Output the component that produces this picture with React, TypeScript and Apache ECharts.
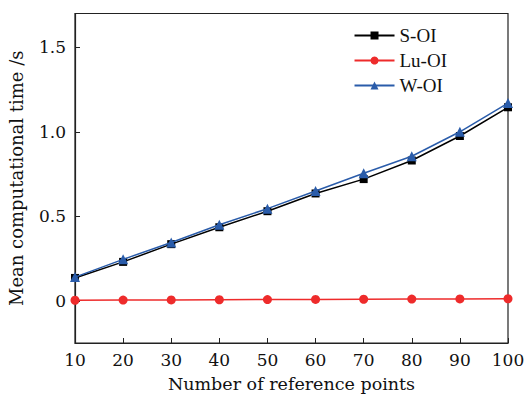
import React, { useEffect, useRef } from "react";
import * as echarts from "echarts";

const xValues = [10, 20, 30, 40, 50, 60, 70, 80, 90, 100];
const sOI = [0.135, 0.23, 0.335, 0.435, 0.53, 0.635, 0.72, 0.83, 0.975, 1.145];
const luOI = [0.003, 0.004, 0.005, 0.006, 0.007, 0.008, 0.009, 0.01, 0.011, 0.012];
const wOI = [0.14, 0.245, 0.345, 0.45, 0.545, 0.65, 0.755, 0.855, 1.0, 1.17];
const yTicks = [0, 0.5, 1.0, 1.5];
const xTicks = [10, 20, 30, 40, 50, 60, 70, 80, 90, 100];

const SERIF = "DejaVu Serif";

export default function App() {
  const ref = useRef<HTMLDivElement>(null);
  useEffect(() => {
    if (!ref.current) return;
    const chart = echarts.init(ref.current, null, { renderer: "svg" });
    const pair = (ys: number[]) => xValues.map((x, i) => [x, ys[i]]);
    chart.setOption({
      animation: false,
      backgroundColor: "#fff",
      grid: {
        left: 75,
        right: 16,
        top: 13.5,
        bottom: 52,
        containLabel: false,
        outerBoundsMode: "none",
        show: true,
        borderColor: "#222",
        borderWidth: 1.2,
        backgroundColor: "transparent",
      },
      legend: {
        right: 72,
        top: 21,
        orient: "vertical",
        itemWidth: 40,
        itemHeight: 10,
        itemGap: 6,
        textStyle: { fontFamily: "Liberation Serif", fontSize: 19, color: "#111" },
        data: ["S-OI", "Lu-OI", "W-OI"],
      },
      xAxis: {
        type: "value",
        min: 10,
        max: 100,
        interval: 10,
        name: "Number of reference points",
        nameLocation: "middle",
        nameGap: 32,
        nameTextStyle: { fontFamily: SERIF, fontSize: 17.5, color: "#111" },
        axisLine: { show: true, onZero: false, lineStyle: { color: "#222", width: 1.2 } },
        axisTick: { show: true, inside: true, length: 5, lineStyle: { color: "#222" }, customValues: xTicks },
        axisLabel: { fontFamily: SERIF, fontSize: 17, color: "#111", margin: 8, customValues: xTicks },
        splitLine: { show: false },
      },
      yAxis: {
        type: "value",
        min: -0.25,
        max: 1.7,
        name: "Mean computational time /s",
        nameLocation: "middle",
        nameGap: 50,
        nameTextStyle: { fontFamily: SERIF, fontSize: 18, color: "#111" },
        axisLine: { show: true, onZero: false, lineStyle: { color: "#222", width: 1.2 } },
        axisTick: { show: true, inside: true, length: 5, lineStyle: { color: "#222" }, customValues: yTicks },
        axisLabel: {
          fontFamily: SERIF,
          fontSize: 17,
          color: "#111",
          margin: 9,
          customValues: yTicks,
          formatter: (v: number) => (v === 0 ? "0" : v.toFixed(1)),
        },
        splitLine: { show: false },
      },
      series: [
        {
          name: "S-OI",
          type: "line",
          data: pair(sOI),
          symbol: "rect",
          symbolSize: 8,
          lineStyle: { color: "#000", width: 1.5 },
          itemStyle: { color: "#000" },
          z: 3,
        },
        {
          name: "Lu-OI",
          type: "line",
          data: pair(luOI),
          symbol: "circle",
          symbolSize: 9,
          lineStyle: { color: "#ee2b2b", width: 1.5 },
          itemStyle: { color: "#ee2b2b" },
          z: 3,
        },
        {
          name: "W-OI",
          type: "line",
          data: pair(wOI),
          symbol: "triangle",
          symbolSize: 10,
          lineStyle: { color: "#2a5caa", width: 1.5 },
          itemStyle: { color: "#2a5caa" },
          z: 4,
        },
      ],
    });
    return () => chart.dispose();
  }, []);
  return <div ref={ref} style={{ width: 524, height: 395, position: "absolute", left: 0, top: 0 }} />;
}
